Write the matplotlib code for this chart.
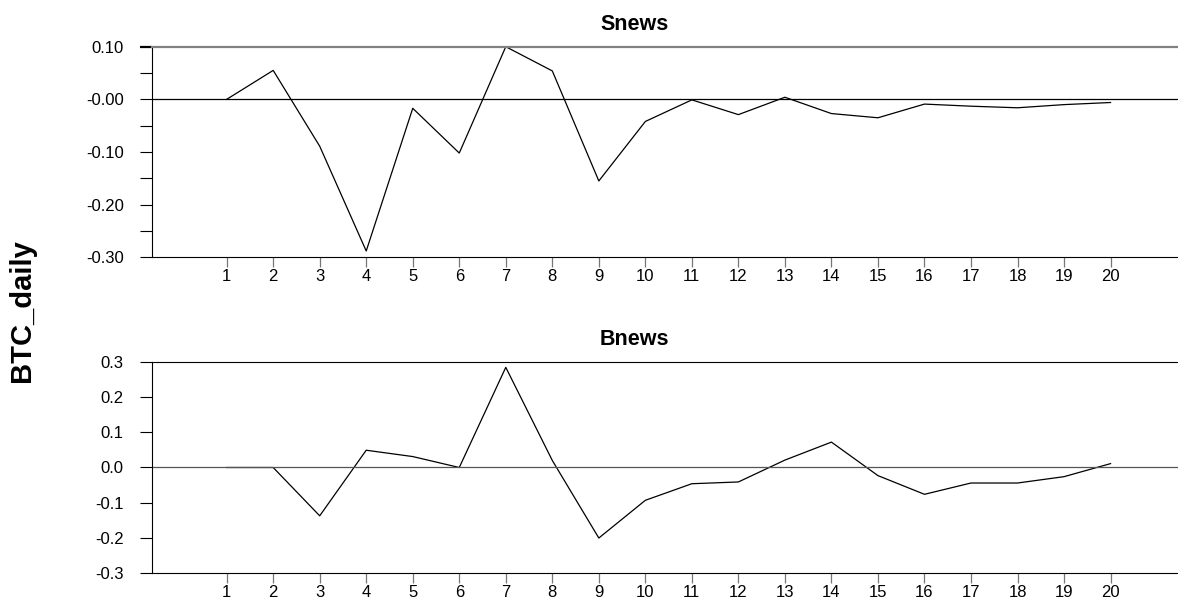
import matplotlib
matplotlib.use('Agg')
import matplotlib.pyplot as plt
from matplotlib.ticker import FixedLocator, FixedFormatter, MultipleLocator

plt.rcParams['font.family'] = ['Liberation Sans', 'DejaVu Sans']

periods = list(range(1, 21))

# impulse responses of BTC_daily
snews = [0.000, 0.055, -0.089, -0.288, -0.017, -0.102, 0.100, 0.054, -0.155, -0.042,
         -0.001, -0.029, 0.004, -0.027, -0.035, -0.009, -0.013, -0.016, -0.010, -0.006]
bnews = [0.000, 0.000, -0.137, 0.049, 0.031, 0.000, 0.284, 0.020, -0.200, -0.093,
         -0.046, -0.041, 0.021, 0.072, -0.023, -0.076, -0.044, -0.044, -0.026, 0.011]

snews_ticks = [0.10, 0.00, -0.10, -0.20, -0.30]
snews_ticklabels = ['0.10', '-0.00', '-0.10', '-0.20', '-0.30']
bnews_ticks = [0.3, 0.2, 0.1, 0.0, -0.1, -0.2, -0.3]
bnews_ticklabels = ['0.3', '0.2', '0.1', '0.0', '-0.1', '-0.2', '-0.3']

W, H = 1178, 605
fig = plt.figure(figsize=(W / 100, H / 100), dpi=100)
ax1 = fig.add_axes([152 / W, 1 - 257.3 / H, 1 - 152 / W, (257.3 - 46.7) / H])
ax2 = fig.add_axes([152 / W, 1 - 573.3 / H, 1 - 152 / W, (573.3 - 361.7) / H])


def style_panel(ax, ticks, ticklabels, ylim, minor=None):
    ax.set_xlim(-0.605, 21.45)
    ax.set_ylim(*ylim)
    ax.set_xticks(periods)
    ax.set_xticklabels([str(p) for p in periods])
    ax.yaxis.set_major_locator(FixedLocator(ticks))
    ax.yaxis.set_major_formatter(FixedFormatter(ticklabels))
    if minor is not None:
        ax.yaxis.set_minor_locator(MultipleLocator(minor))
    ax.tick_params(axis='y', which='both', direction='out', length=8.9,
                   width=0.8, color='black', labelsize=12, pad=11.5)
    ax.tick_params(axis='x', direction='out', length=7.2, width=0.9,
                   color='#777777', labelsize=12, pad=1.5)
    ax.spines['right'].set_visible(False)
    for side in ('left', 'bottom', 'top'):
        ax.spines[side].set_linewidth(0.8)


ax1.plot(periods, snews, color='black', lw=0.9)
ax1.axhline(0, color='black', lw=0.9)
style_panel(ax1, snews_ticks, snews_ticklabels, (-0.30, 0.10), minor=0.05)
ax1.spines['top'].set_color('#808080')
ax1.spines['top'].set_linewidth(1.6)
# the 0.10 tick runs into the grey top line
top_tick = ax1.yaxis.get_major_ticks()[0]
top_tick.tick1line.set_color('#808080')
top_tick.tick1line.set_markeredgewidth(1.6)

ax2.plot(periods, bnews, color='black', lw=0.9)
ax2.axhline(0, color='#555555', lw=0.9)
style_panel(ax2, bnews_ticks, bnews_ticklabels, (-0.3, 0.3))

# panel titles sit over the panel including its tick labels
fig.text(634.5 / W, 1 - 30 / H, 'Snews', ha='center', va='baseline',
         fontsize=15.5, fontweight='bold')
fig.text(634.5 / W, 1 - 345 / H, 'Bnews', ha='center', va='baseline',
         fontsize=15.5, fontweight='bold')

fig.text(22 / W, 1 - 311 / H, 'BTC_daily', rotation=90, ha='center', va='center',
         fontsize=21, fontweight='bold')

fig.savefig('out.png', dpi=100)
